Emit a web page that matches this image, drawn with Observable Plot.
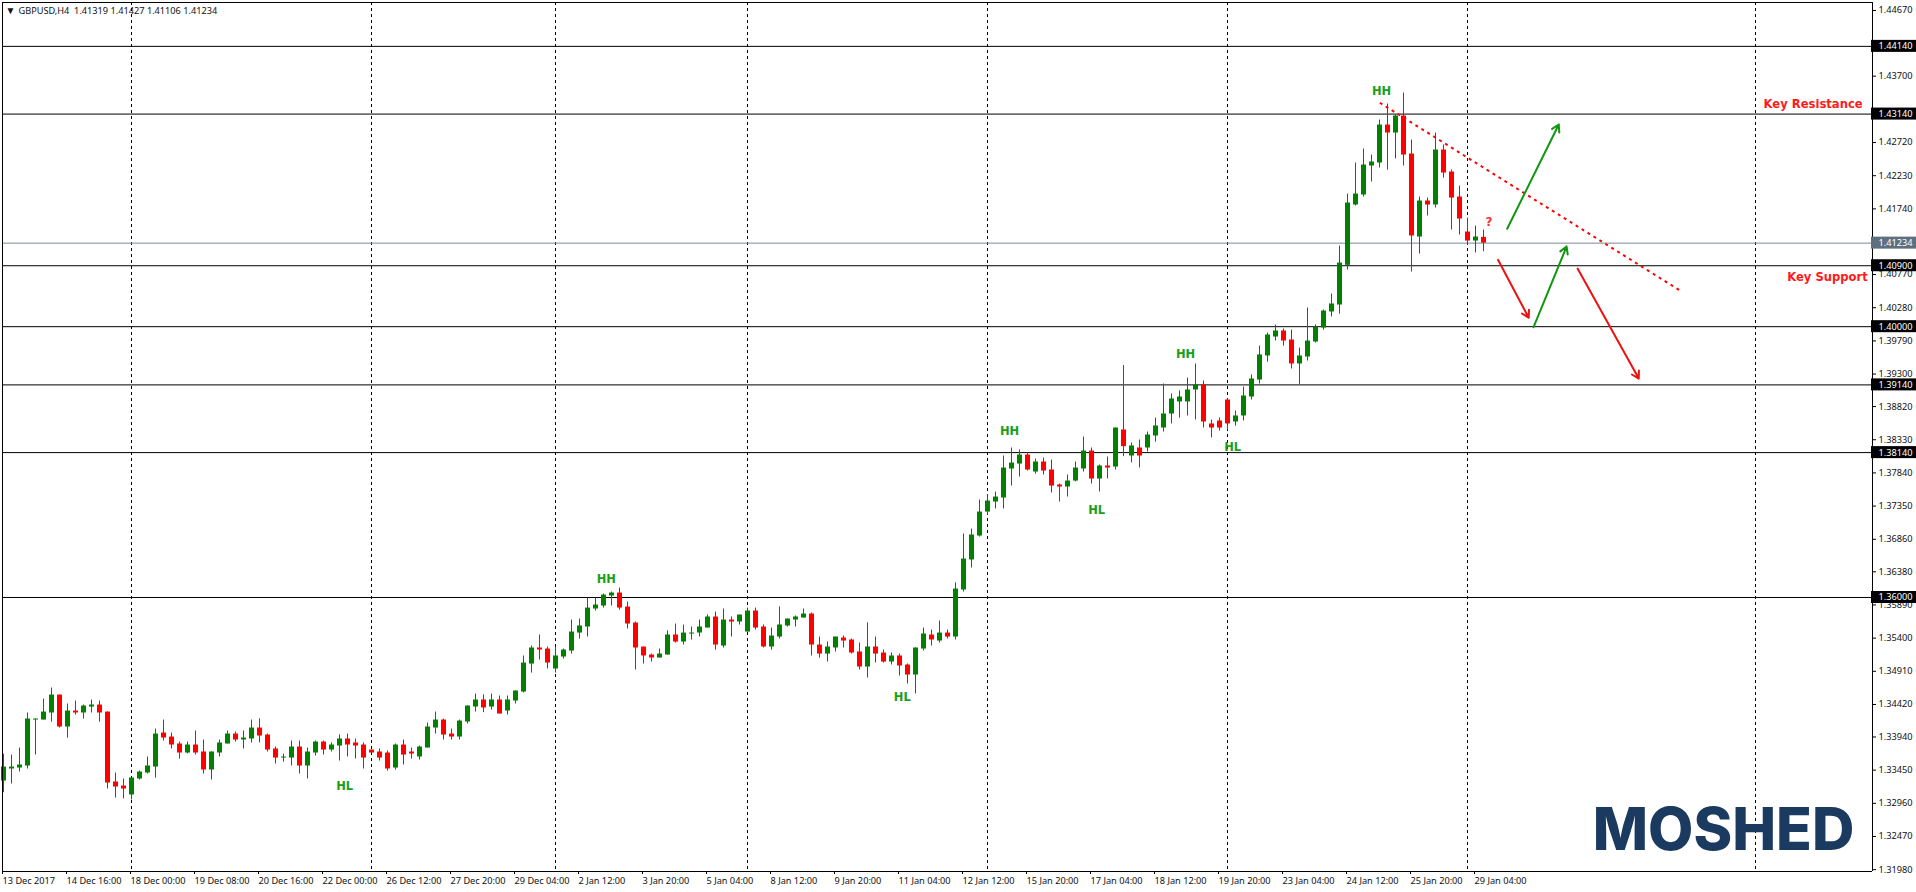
<!DOCTYPE html>
<html>
<head>
<meta charset="utf-8">
<script src="https://cdn.jsdelivr.net/npm/d3@7"></script>
<script src="https://cdn.jsdelivr.net/npm/@observablehq/plot@0.6"></script>
<style>
html,body{margin:0;padding:0;background:#fff;overflow:hidden}
svg{display:block}
</style>
</head>
<body>
<div id="chart"></div>
<script>
const highs = [
1.33688,1.33673,1.33777,1.34294,1.34205,1.34500,1.34663,1.34559,1.34427,1.34471,
1.34412,1.34486,1.34471,1.34308,1.33407,1.33319,1.33334,1.33437,1.33644,1.34057,
1.34190,1.33998,1.33865,1.33865,1.34028,1.33895,1.33718,1.33895,1.34028,1.34013,
1.34028,1.34190,1.34205,1.33983,1.33791,1.33688,1.33880,1.33880,1.33777,1.33880,
1.33880,1.33851,1.33969,1.33983,1.33910,1.33851,1.33747,1.33762,1.33732,1.33836,
1.33895,1.33777,1.33806,1.34146,1.34308,1.34205,1.34057,1.34190,1.34397,1.34574,
1.34560,1.34574,1.34545,1.34545,1.34619,1.35136,1.35283,1.35446,1.35268,1.35268,
1.35239,1.35667,1.35682,1.35992,1.35992,1.36051,1.36081,1.36140,1.35933,1.35638,
1.35268,1.35165,1.35239,1.35505,1.35608,1.35593,1.35564,1.35667,1.35741,1.35785,
1.35830,1.35712,1.35741,1.35844,1.35844,1.35594,1.35549,1.35859,1.35682,1.35727,
1.35830,1.35771,1.35416,1.35343,1.35416,1.35431,1.35387,1.35328,1.35623,1.35416,
1.35224,1.35180,1.35165,1.35018,1.35254,1.35549,1.35520,1.35653,1.35520,1.36214,
1.36938,1.37011,1.37440,1.37514,1.37558,1.38090,1.38208,1.38178,1.38134,1.38045,
1.38060,1.38030,1.37676,1.37809,1.38001,1.38370,1.38208,1.37957,1.38075,1.38503,
1.39427,1.38282,1.38326,1.38444,1.38651,1.39153,1.39006,1.39050,1.39242,1.39449,
1.39198,1.38622,1.38651,1.38932,1.38755,1.39109,1.39286,1.39714,1.39906,1.40025,
1.39966,1.39951,1.39685,1.40276,1.40025,1.40246,1.40482,1.41191,1.41959,1.42417,
1.42624,1.42535,1.43052,1.43289,1.43126,1.43451,1.42757,1.41915,1.41900,1.42860,
1.42683,1.42314,1.42077,1.41605,1.41487,1.41427];
const opens = [
1.33289,1.33467,1.33481,1.33511,1.34190,1.34190,1.34294,1.34559,1.34087,1.34323,
1.34294,1.34382,1.34412,1.34308,1.33275,1.33215,1.33083,1.33319,1.33408,1.33496,
1.33998,1.33939,1.33836,1.33703,1.33821,1.33718,1.33452,1.33703,1.33836,1.33983,
1.33895,1.33910,1.34072,1.33969,1.33762,1.33629,1.33629,1.33791,1.33511,1.33703,
1.33865,1.33747,1.33806,1.33910,1.33851,1.33821,1.33747,1.33718,1.33703,1.33481,
1.33821,1.33718,1.33644,1.33777,1.34072,1.34190,1.33983,1.33939,1.34161,1.34382,
1.34486,1.34382,1.34486,1.34323,1.34471,1.34604,1.35017,1.35254,1.35239,1.34944,
1.35121,1.35209,1.35475,1.35564,1.35830,1.35874,1.36022,1.36066,1.35859,1.35623,
1.35268,1.35150,1.35106,1.35150,1.35446,1.35342,1.35460,1.35475,1.35549,1.35712,
1.35283,1.35667,1.35638,1.35490,1.35800,1.35564,1.35269,1.35416,1.35579,1.35667,
1.35697,1.35756,1.35298,1.35165,1.35254,1.35402,1.35372,1.35195,1.34973,1.35269,
1.35180,1.35047,1.35136,1.35003,1.34855,1.35239,1.35446,1.35357,1.35475,1.35416,
1.36111,1.36554,1.36908,1.37262,1.37410,1.37469,1.37898,1.37971,1.38104,1.37853,
1.38001,1.37883,1.37661,1.37632,1.37720,1.37898,1.38163,1.37750,1.37942,1.37927,
1.38474,1.38090,1.38208,1.38208,1.38385,1.38503,1.38710,1.38888,1.38888,1.39065,
1.39139,1.38563,1.38607,1.38917,1.38592,1.38681,1.38961,1.39212,1.39567,1.39847,
1.39936,1.39803,1.39449,1.39552,1.39774,1.39980,1.40217,1.40320,1.40906,1.41797,
1.41945,1.42373,1.42417,1.42978,1.42860,1.43111,1.42550,1.41324,1.41856,1.41797,
1.42609,1.42284,1.41915,1.41398,1.41265,1.41319];
const closes = [
1.33496,1.33496,1.33526,1.34205,1.34205,1.34308,1.34559,1.34087,1.34323,1.34294,
1.34397,1.34412,1.34294,1.33260,1.33201,1.33171,1.33334,1.33422,1.33511,1.33983,
1.33924,1.33821,1.33703,1.33821,1.33703,1.33452,1.33718,1.33851,1.33983,1.33895,
1.33924,1.34072,1.33954,1.33747,1.33629,1.33644,1.33791,1.33511,1.33718,1.33865,
1.33747,1.33821,1.33910,1.33821,1.33806,1.33629,1.33703,1.33629,1.33467,1.33821,
1.33673,1.33688,1.33791,1.34087,1.34190,1.33969,1.33939,1.34175,1.34397,1.34486,
1.34368,1.34486,1.34279,1.34486,1.34619,1.35032,1.35254,1.35224,1.35032,1.35136,
1.35224,1.35490,1.35579,1.35844,1.35889,1.36036,1.36066,1.35844,1.35608,1.35254,
1.35136,1.35106,1.35165,1.35446,1.35342,1.35475,1.35475,1.35564,1.35712,1.35298,
1.35667,1.35638,1.35741,1.35800,1.35549,1.35269,1.35431,1.35594,1.35682,1.35712,
1.35756,1.35298,1.35165,1.35269,1.35416,1.35357,1.35180,1.34973,1.35269,1.35165,
1.35047,1.35136,1.34988,1.34855,1.35254,1.35461,1.35372,1.35475,1.35416,1.36125,
1.36568,1.36923,1.37262,1.37425,1.37484,1.37912,1.37986,1.38104,1.37883,1.38001,
1.37868,1.37646,1.37632,1.37720,1.37912,1.38163,1.37750,1.37942,1.37912,1.38503,
1.38228,1.38238,1.38090,1.38400,1.38533,1.38710,1.38932,1.38961,1.39065,1.39139,
1.38592,1.38503,1.38503,1.38563,1.38681,1.38976,1.39227,1.39582,1.39877,1.39936,
1.39788,1.39449,1.39567,1.39788,1.39995,1.40231,1.40335,1.40940,1.41826,1.41959,
1.42388,1.42432,1.42978,1.42860,1.43111,1.42535,1.41339,1.41856,1.41797,1.42609,
1.42269,1.41900,1.41590,1.41265,1.41324,1.41234];
const lows = [
1.33117,1.33245,1.33422,1.33467,1.33673,1.34190,1.34161,1.34072,1.33924,1.34264,
1.34205,1.34294,1.34161,1.33171,1.33038,1.33024,1.33009,1.33304,1.33393,1.33334,
1.33880,1.33762,1.33614,1.33688,1.33673,1.33393,1.33304,1.33644,1.33836,1.33865,
1.33762,1.33851,1.33851,1.33718,1.33540,1.33570,1.33511,1.33393,1.33319,1.33659,
1.33673,1.33718,1.33585,1.33644,1.33614,1.33467,1.33703,1.33585,1.33437,1.33452,
1.33526,1.33614,1.33599,1.33777,1.33983,1.33895,1.33895,1.33895,1.34131,1.34308,
1.34299,1.34338,1.34279,1.34264,1.34427,1.34589,1.34884,1.35076,1.34944,1.34884,
1.35091,1.35165,1.35387,1.35416,1.35800,1.35844,1.35874,1.35815,1.35534,1.34929,
1.35017,1.35047,1.35106,1.35150,1.35328,1.35298,1.35372,1.35416,1.35549,1.35224,
1.35254,1.35416,1.35593,1.35490,1.35520,1.35254,1.35224,1.35387,1.35564,1.35564,
1.35697,1.35136,1.35106,1.35047,1.35195,1.35254,1.35165,1.34929,1.34811,1.35032,
1.35032,1.35003,1.34840,1.34722,1.34575,1.35210,1.35283,1.35328,1.35387,1.35372,
1.36081,1.36435,1.36893,1.37218,1.37307,1.37307,1.37646,1.37779,1.37868,1.37824,
1.37809,1.37543,1.37410,1.37484,1.37706,1.37853,1.37676,1.37558,1.37750,1.37883,
1.38080,1.37987,1.37913,1.38149,1.38297,1.38444,1.38563,1.38651,1.38681,1.38622,
1.38503,1.38356,1.38459,1.38474,1.38533,1.38607,1.38917,1.39153,1.39478,1.39788,
1.39714,1.39375,1.39148,1.39493,1.39759,1.39951,1.40143,1.40187,1.40837,1.41782,
1.41915,1.42137,1.42343,1.42314,1.42476,1.42373,1.40807,1.41073,1.41634,1.41753,
1.42196,1.41428,1.41354,1.41206,1.41088,1.41106];

const axisPrices = [1.4467,1.437,1.4272,1.4223,1.4174,1.4077,1.4028,1.3979,1.393,1.3882,1.3833,1.3784,1.3735,1.3686,1.3638,1.3589,1.354,1.3491,1.3442,1.3394,1.3345,1.3296,1.3247,1.3198];
const levels = [1.4414,1.4314,1.409,1.4,1.3914,1.3814,1.36];
const currentPrice = 1.41234;
const dayBreaks = [16,46,69,93,123,153,183,219];
const timeTickIndex = [0,8,16,24,32,40,48,56,64,72,80,88,96,104,112,120,128,136,144,152,160,168,176,184];
const timeLabels = ["13 Dec 2017","14 Dec 16:00","18 Dec 00:00","19 Dec 08:00","20 Dec 16:00","22 Dec 00:00","26 Dec 12:00","27 Dec 20:00","29 Dec 04:00","2 Jan 12:00","3 Jan 20:00","5 Jan 04:00","8 Jan 12:00","9 Jan 20:00","11 Jan 04:00","12 Jan 12:00","15 Jan 20:00","17 Jan 04:00","18 Jan 12:00","19 Jan 20:00","23 Jan 04:00","24 Jan 12:00","25 Jan 20:00","29 Jan 04:00"];
const swingLabels = [
  {k:42.65,p:1.33208,t:"HL"},{k:75.35,p:1.36266,t:"HH"},{k:112.35,p:1.34523,t:"HL"},{k:125.75,p:1.38452,t:"HH"},
  {k:136.65,p:1.37285,t:"HL"},{k:147.75,p:1.39589,t:"HH"},{k:153.65,p:1.38216,t:"HL"},{k:172.25,p:1.43474,t:"HH"}];
const notes = [
  {k:226.2,p:1.43282,t:"Key Resistance"},{k:228,p:1.40734,t:"Key Support"}];
const question = [{k:185.7,p:1.41539,t:"?"}];
const trend = [{k1:172.04,p1:1.43307,k2:209.75,p2:1.4052}];
const upArrows = [{k1:187.96,p1:1.41446,k2:194.41,p2:1.42986},{k1:191.26,p1:1.39992,k2:195.39,p2:1.41184}];
const downArrows = [{k1:186.83,p1:1.40986,k2:190.65,p2:1.40132},{k1:196.76,p1:1.40859,k2:204.41,p2:1.39233}];
const logo = [{k:215,p:1.32546,t:"MOSHED"}];
const header = "GBPUSD,H4  1.41319 1.41427 1.41106 1.41234";

const candles = opens.map((o,i)=>({k:i,o,h:highs[i],l:lows[i],c:closes[i]}));
const xDomain = [-0.125,233.625], yDomain = [1.31953,1.44788];
const GREEN="#008000", RED="#ff0000", FONT="'Noto Sans',sans-serif", AX=9.2;
const col = d => d.c>=d.o ? GREEN : RED;
const boxed = [...levels.map(p=>({p,f:"#000"})),{p:currentPrice,f:"#5f6f80"}];

const chart = Plot.plot({
  width:1916,height:892,marginLeft:2,marginRight:44,marginTop:2,marginBottom:21,
  style:{background:"#fff",fontFamily:FONT},
  x:{domain:xDomain},
  y:{domain:yDomain},
  color:{type:"identity"},
  marks:[
    Plot.ruleX(dayBreaks,{stroke:"#000",strokeWidth:1,strokeDasharray:"3,3"}),
    Plot.ruleY(levels,{stroke:"#000",strokeWidth:1}),
    Plot.ruleY([currentPrice],{stroke:"#778899",strokeWidth:1}),
    Plot.ruleX(candles,{x:"k",y1:"l",y2:"h",stroke:col,strokeWidth:1}),
    Plot.ruleX(candles,{x:"k",y1:"o",y2:"c",stroke:col,strokeWidth:5}),
    Plot.ruleX(xDomain,{stroke:"#000",strokeWidth:1}),
    Plot.ruleY(yDomain,{stroke:"#000",strokeWidth:1}),
    Plot.axisY({anchor:"right",ticks:axisPrices,tickFormat:d=>d.toFixed(5),tickSize:3,tickPadding:3,label:null,fontSize:AX,fill:"#111",fontFamily:FONT}),
    Plot.axisX({anchor:"bottom",ticks:timeTickIndex,tickFormat:k=>timeLabels[timeTickIndex.indexOf(k)],tickSize:3,tickPadding:3,textAnchor:"start",dx:-1,label:null,fontSize:AX,fill:"#111",fontFamily:FONT}),
    Plot.rect(boxed,{x1:()=>xDomain[1],x2:()=>xDomain[1],y1:"p",y2:"p",fill:"f",insetLeft:-1,insetRight:-44,insetTop:-6,insetBottom:-6}),
    Plot.text(boxed,{x:()=>xDomain[1],y:"p",text:d=>d.p.toFixed(5),dx:6,textAnchor:"start",fill:"#fff",fontSize:AX,fontFamily:FONT}),
    Plot.link(trend,{x1:"k1",y1:"p1",x2:"k2",y2:"p2",stroke:RED,strokeWidth:2,strokeDasharray:"3,4"}),
    Plot.arrow(upArrows,{x1:"k1",y1:"p1",x2:"k2",y2:"p2",stroke:"#129612",strokeWidth:2,headLength:6}),
    Plot.arrow(downArrows,{x1:"k1",y1:"p1",x2:"k2",y2:"p2",stroke:"#ee1111",strokeWidth:2,headLength:6}),
    Plot.text(swingLabels,{x:"k",y:"p",text:"t",fill:"#18a018",fontSize:11.5,fontWeight:"bold",fontFamily:"'DejaVu Sans',sans-serif"}),
    Plot.text(notes,{x:"k",y:"p",text:"t",fill:"#ff1a1a",fontSize:11.6,fontWeight:"bold",fontFamily:"'DejaVu Sans',sans-serif"}),
    Plot.text(question,{x:"k",y:"p",text:"t",fill:"#ff3030",fontSize:12,fontWeight:"bold",fontFamily:"'DejaVu Sans',sans-serif"}),
    Plot.text(logo,{x:"k",y:"p",text:"t",fill:"#1b3a60",fontSize:58.7,fontWeight:800,fontFamily:"Inter,sans-serif"}),
    Plot.text([header],{frameAnchor:"top-left",dx:16,dy:5,textAnchor:"start",lineAnchor:"top",fill:"#111",fontSize:AX,fontFamily:FONT,text:d=>d}),
    Plot.text(["▼"],{frameAnchor:"top-left",dx:3,dy:4,textAnchor:"start",lineAnchor:"top",fill:"#111",fontSize:10,text:d=>d})
  ]
});
document.getElementById("chart").append(chart);
</script>
</body>
</html>
